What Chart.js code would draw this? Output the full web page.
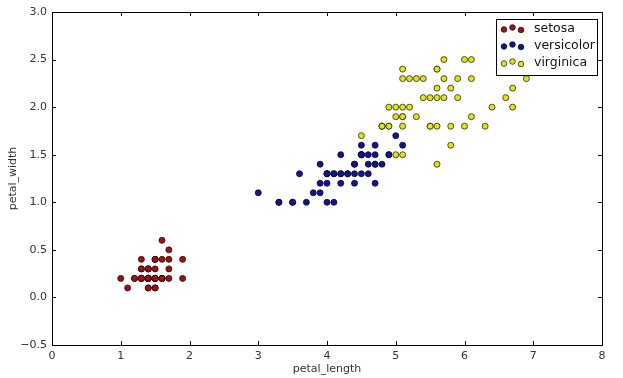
<!DOCTYPE html>
<html><head><meta charset="utf-8">
<script src="https://cdn.jsdelivr.net/npm/chart.js@4/dist/chart.umd.min.js"></script>
<style>html,body{margin:0;padding:0;background:#fff}#wrap{width:623px;height:378px}</style>
</head><body><div id="wrap"><canvas id="c" width="623" height="378"></canvas></div>
<script>
const species = ['setosa','versicolor','virginica'];
const setosaLength = [1.4,1.4,1.3,1.5,1.4,1.7,1.4,1.5,1.4,1.5,1.5,1.6,1.4,1.1,1.2,1.5,1.3,1.4,1.7,1.5,1.7,1.5,1.0,1.7,1.9,1.6,1.6,1.5,1.4,1.6,1.6,1.5,1.5,1.4,1.5,1.2,1.3,1.4,1.3,1.5,1.3,1.3,1.3,1.6,1.9,1.4,1.6,1.4,1.5,1.4];
const setosaWidth  = [0.2,0.2,0.2,0.2,0.2,0.4,0.3,0.2,0.2,0.1,0.2,0.2,0.1,0.1,0.2,0.4,0.4,0.3,0.3,0.3,0.2,0.4,0.2,0.5,0.2,0.2,0.4,0.2,0.2,0.2,0.2,0.4,0.1,0.2,0.2,0.2,0.2,0.1,0.2,0.2,0.3,0.3,0.2,0.6,0.4,0.3,0.2,0.2,0.2,0.2];
const versicolorLength = [4.7,4.5,4.9,4.0,4.6,4.5,4.7,3.3,4.6,3.9,3.5,4.2,4.0,4.7,3.6,4.4,4.5,4.1,4.5,3.9,4.8,4.0,4.9,4.7,4.3,4.4,4.8,5.0,4.5,3.5,3.8,3.7,3.9,5.1,4.5,4.5,4.7,4.4,4.1,4.0,4.4,4.6,4.0,3.3,4.2,4.2,4.2,4.3,3.0,4.1];
const versicolorWidth  = [1.4,1.5,1.5,1.3,1.5,1.3,1.6,1.0,1.3,1.4,1.0,1.5,1.0,1.4,1.3,1.4,1.5,1.0,1.5,1.1,1.8,1.3,1.5,1.2,1.3,1.4,1.4,1.7,1.5,1.0,1.1,1.0,1.2,1.6,1.5,1.6,1.5,1.3,1.3,1.3,1.2,1.4,1.2,1.0,1.3,1.2,1.3,1.3,1.1,1.3];
const virginicaLength = [6.0,5.1,5.9,5.6,5.8,6.6,4.5,6.3,5.8,6.1,5.1,5.3,5.5,5.0,5.1,5.3,5.5,6.7,6.9,5.0,5.7,4.9,6.7,4.9,5.7,6.0,4.8,4.9,5.6,5.8,6.1,6.4,5.6,5.1,5.6,6.1,5.6,5.5,4.8,5.4,5.6,5.1,5.1,5.9,5.7,5.2,5.0,5.2,5.4,5.1];
const virginicaWidth  = [2.5,1.9,2.1,1.8,2.2,2.1,1.7,1.8,1.8,2.5,2.0,1.9,2.1,2.0,2.4,2.3,1.8,2.2,2.3,1.5,2.3,2.0,2.0,1.8,2.1,1.8,1.8,1.8,2.1,1.6,1.9,2.0,2.2,1.5,1.4,2.3,2.4,1.8,1.8,2.1,2.4,2.3,1.9,2.3,2.5,2.3,1.9,2.0,2.3,1.8];
const xTicks = [0,1,2,3,4,5,6,7,8];
const yTicks = [-0.5,0.0,0.5,1.0,1.5,2.0,2.5,3.0];

const fills = ['#9a1414','#14148f','#e2e21e'];
const edges = ['#2a0505','#05052a','#2a2a05'];
function pts(xs, ys){ return xs.map((x,i)=>({x:x,y:ys[i]})); }
const series = [pts(setosaLength,setosaWidth), pts(versicolorLength,versicolorWidth), pts(virginicaLength,virginicaWidth)];

const FONT = "'DejaVu Sans', sans-serif";
const frameTicks = {
  id:'frameTicks',
  afterDatasetsDraw(chart){
    const {ctx, chartArea:a, scales:{x,y}} = chart;
    ctx.save();
    ctx.strokeStyle = '#000'; ctx.lineWidth = 1;
    ctx.beginPath();
    xTicks.forEach(v=>{ const px=Math.round(x.getPixelForValue(v))+0.5;
      ctx.moveTo(px,a.bottom); ctx.lineTo(px,a.bottom-4);
      ctx.moveTo(px,a.top); ctx.lineTo(px,a.top+4); });
    yTicks.forEach(v=>{ const py=Math.round(y.getPixelForValue(v))+0.5;
      ctx.moveTo(a.left,py); ctx.lineTo(a.left+4,py);
      ctx.moveTo(a.right,py); ctx.lineTo(a.right-4,py); });
    ctx.stroke();
    ctx.strokeRect(Math.round(a.left)+0.5, Math.round(a.top)+0.5, Math.round(a.right-a.left), Math.round(a.bottom-a.top));
    // legend
    const lx=496.5, ly=19.5, lw=101, lh=56;
    ctx.fillStyle='#fff'; ctx.fillRect(lx,ly,lw,lh);
    ctx.strokeStyle='#000'; ctx.strokeRect(lx,ly,lw,lh);
    ctx.font = "12.5px "+FONT; ctx.textBaseline='middle'; ctx.textAlign='left';
    species.forEach((s,i)=>{
      const cy = 29 + i*17;
      [[504,0],[512.5,-2],[521,0.5]].forEach(([mx,dy])=>{
        ctx.beginPath(); ctx.arc(mx, cy+dy+0.5, 2.8, 0, Math.PI*2);
        ctx.fillStyle=fills[i]; ctx.fill(); ctx.strokeStyle=edges[i]; ctx.lineWidth=0.8; ctx.stroke();
      });
      ctx.fillStyle='#111'; ctx.fillText(s, 534, cy);
    });
    ctx.restore();
  }
};

new Chart(document.getElementById('c'), {
  type:'scatter',
  data:{ datasets: series.map((d,i)=>({label:species[i], data:d, order:2-i, backgroundColor:fills[i], borderColor:edges[i], borderWidth:0.8, pointRadius:3, pointHoverRadius:3})) },
  options:{
    responsive:false, animation:false, devicePixelRatio:1,
    layout:{padding:{top:12,right:21,left:0,bottom:0}},
    plugins:{legend:{display:false}, tooltip:{enabled:false}},
    scales:{
      x:{ type:'linear', min:0, max:8,
        afterBuildTicks(s){ s.ticks = xTicks.map(v=>({value:v})); },
        afterFit(s){ s.height = 33; },
        grid:{display:false, drawTicks:false}, border:{display:false},
        ticks:{ font:{family:FONT,size:11}, color:'#333', padding:5, maxRotation:0, callback:v=>String(v) },
        title:{display:true, text:'petal_length', font:{family:FONT,size:11}, color:'#333', padding:{top:0,bottom:2}}
      },
      y:{ type:'linear', min:-0.5, max:3.0,
        afterBuildTicks(s){ s.ticks = yTicks.map(v=>({value:v})); },
        afterFit(s){ s.width = 52; },
        grid:{display:false, drawTicks:false}, border:{display:false},
        ticks:{ font:{family:FONT,size:11}, color:'#333', padding:5, callback:v=>(v<0?'\u2212':'')+Math.abs(v).toFixed(1) },
        title:{display:true, text:'petal_width', font:{family:FONT,size:11}, color:'#333', padding:{top:7,bottom:0}}
      }
    }
  },
  plugins:[frameTicks]
});
</script></body></html>
